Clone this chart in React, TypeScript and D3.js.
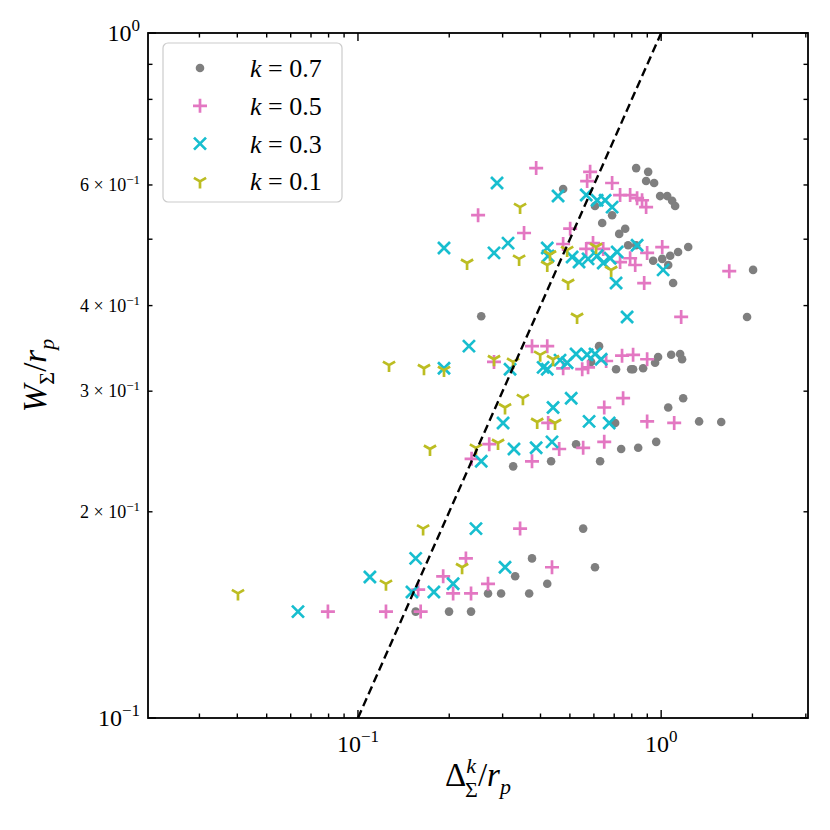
import React, { useRef, useEffect } from 'react';
import * as d3 from 'd3';

const WIDTH = 830;
const HEIGHT = 830;
const margin = { left: 148, right: 22, top: 33, bottom: 112 };

// k = 0.7  [Delta/r_p, W/r_p]
const seriesK07: [number, number][] = [
  [0.827, 0.635], [0.906, 0.627], [0.892, 0.608], [0.948, 0.604], [0.475, 0.592],
  [0.992, 0.578], [1.047, 0.578], [1.087, 0.569], [1.112, 0.559], [0.605, 0.559],
  [0.689, 0.542], [0.639, 0.528], [0.761, 0.518], [0.727, 0.509], [0.778, 0.49],
  [0.827, 0.49], [1.228, 0.487], [1.137, 0.479], [1.071, 0.473], [1.008, 0.468],
  [0.941, 0.465], [1.055, 0.4585], [1.095, 0.4315], [2.01, 0.451], [1.92, 0.385],
  [0.255, 0.386], [0.624, 0.349], [0.977, 0.3365], [1.079, 0.339], [1.155, 0.34],
  [1.172, 0.334], [0.955, 0.33], [0.872, 0.324], [0.808, 0.323], [0.796, 0.323],
  [0.71, 0.323], [0.5875, 0.331], [1.182, 0.293], [1.055, 0.284], [1.334, 0.271],
  [1.578, 0.2705], [0.705, 0.2696], [0.524, 0.251], [0.738, 0.247], [0.84, 0.248],
  [0.963, 0.253], [0.325, 0.233], [0.4335, 0.237], [0.629, 0.237], [0.553, 0.189],
  [0.375, 0.171], [0.605, 0.166], [0.33, 0.161], [0.421, 0.157], [0.2685, 0.152],
  [0.2965, 0.152], [0.367, 0.152], [0.1997, 0.143], [0.236, 0.143], [0.155, 0.143],
];

// k = 0.5
const seriesK05: [number, number][] = [
  [0.387, 0.635], [0.583, 0.627], [0.57, 0.608], [0.689, 0.604], [0.732, 0.58],
  [0.79, 0.58], [0.833, 0.574], [0.865, 0.57], [0.892, 0.557], [0.249, 0.542],
  [0.353, 0.5105], [0.501, 0.518], [0.475, 0.492], [0.596, 0.4935], [0.566, 0.484],
  [0.644, 0.484], [0.732, 0.463], [0.79, 0.469], [0.821, 0.4585], [0.899, 0.4775],
  [1.008, 0.487], [0.879, 0.4315], [1.677, 0.449], [1.164, 0.385], [0.375, 0.349],
  [0.421, 0.349], [0.281, 0.331], [0.475, 0.324], [0.549, 0.323], [0.574, 0.325],
  [0.6585, 0.332], [0.743, 0.338], [0.808, 0.339], [0.899, 0.334], [0.749, 0.293],
  [0.649, 0.284], [0.424, 0.2696], [0.899, 0.271], [1.104, 0.2696], [0.271, 0.251],
  [0.461, 0.247], [0.553, 0.248], [0.649, 0.253], [0.237, 0.239], [0.375, 0.237],
  [0.3425, 0.189], [0.227, 0.171], [0.4365, 0.166], [0.191, 0.161], [0.2685, 0.157],
  [0.158, 0.154], [0.206, 0.152], [0.236, 0.152], [0.0796, 0.143], [0.1237, 0.143],
  [0.161, 0.143],
];

// k = 0.3
const seriesK03: [number, number][] = [
  [0.2875, 0.604], [0.457, 0.578], [0.566, 0.58], [0.615, 0.57], [0.6535, 0.57],
  [0.689, 0.557], [0.1922, 0.4855], [0.3126, 0.4935], [0.281, 0.4775], [0.421, 0.4855],
  [0.4236, 0.4726], [0.5085, 0.471], [0.536, 0.463], [0.574, 0.468], [0.615, 0.473],
  [0.644, 0.4616], [0.679, 0.469], [0.716, 0.479], [0.833, 0.49], [1.015, 0.451],
  [0.71, 0.4315], [0.772, 0.385], [0.2323, 0.349], [0.1922, 0.324], [0.3174, 0.323],
  [0.408, 0.325], [0.421, 0.323], [0.464, 0.333], [0.4897, 0.33], [0.524, 0.34],
  [0.57, 0.339], [0.605, 0.34], [0.634, 0.334], [0.505, 0.293], [0.44, 0.284],
  [0.301, 0.2696], [0.5785, 0.271], [0.674, 0.2696], [0.327, 0.247], [0.387, 0.248],
  [0.4365, 0.253], [0.255, 0.237], [0.245, 0.189], [0.3055, 0.166], [0.155, 0.171],
  [0.1095, 0.1606], [0.206, 0.157], [0.1507, 0.1527], [0.178, 0.1527], [0.0634, 0.143],
];

// k = 0.1
const seriesK01: [number, number][] = [
  [0.3425, 0.557], [0.229, 0.4616], [0.34, 0.468], [0.4897, 0.482], [0.61, 0.487],
  [0.421, 0.4585], [0.43, 0.475], [0.4932, 0.4315], [0.684, 0.4508], [0.528, 0.385],
  [0.1266, 0.3275], [0.1651, 0.324], [0.1922, 0.322], [0.281, 0.334], [0.3248, 0.331],
  [0.399, 0.339], [0.44, 0.334], [0.35, 0.293], [0.3055, 0.284], [0.39, 0.2705],
  [0.4467, 0.2696], [0.1728, 0.247], [0.245, 0.248], [0.2897, 0.252], [0.164, 0.189],
  [0.2205, 0.166], [0.1237, 0.157], [0.0402, 0.152],
];

const kLabels = ['0.7', '0.5', '0.3', '0.1'];
const kColors = ['#7f7f7f', '#e377c2', '#17becf', '#bcbd22'];
const kMarkers = ['circle', 'plus', 'cross', 'tri'];
const allSeries = [seriesK07, seriesK05, seriesK03, seriesK01];

const xDomain: [number, number] = [0.0203, 3.05];
const yDomain: [number, number] = [0.1, 1];
const yLabelledMinor = [0.2, 0.3, 0.4, 0.6];
const refLine: [number, number][] = [[0.1, 0.1], [1, 1]];

const SERIF = '"Liberation Serif", "DejaVu Serif", serif';

const markerPath: Record<string, string> = {
  plus: 'M-7,0H7M0,-7V7',
  cross: 'M-6,-6L6,6M-6,6L6,-6',
  tri: 'M0,0V7M0,0L-6.1,-3.5M0,0L6.1,-3.5',
};

function drawMarker(g: d3.Selection<SVGGElement, unknown, null, undefined>, kind: string, color: string) {
  if (kind === 'circle') {
    g.append('circle').attr('r', 4.3).attr('fill', color);
  } else {
    g.append('path')
      .attr('d', markerPath[kind])
      .attr('fill', 'none')
      .attr('stroke', color)
      .attr('stroke-width', 2.7);
  }
}

const App: React.FC = () => {
  const svgRef = useRef<SVGSVGElement>(null);

  useEffect(() => {
    const svg = d3.select(svgRef.current);
    svg.selectAll('*').remove();

    const x0 = margin.left;
    const x1 = WIDTH - margin.right;
    const y0 = margin.top;
    const y1 = HEIGHT - margin.bottom;

    const x = d3.scaleLog().domain(xDomain).range([x0, x1]);
    const y = d3.scaleLog().domain(yDomain).range([y1, y0]);

    svg.append('rect').attr('width', WIDTH).attr('height', HEIGHT).attr('fill', 'white');

    svg.append('clipPath').attr('id', 'plot-clip')
      .append('rect')
      .attr('x', x0).attr('y', y0)
      .attr('width', x1 - x0).attr('height', y1 - y0);

    const plot = svg.append('g').attr('clip-path', 'url(#plot-clip)');

    // series
    allSeries.forEach((data, i) => {
      data.forEach(d => {
        const g = plot.append('g').attr('transform', `translate(${x(d[0])},${y(d[1])})`);
        drawMarker(g, kMarkers[i], kColors[i]);
      });
    });

    // y = x reference
    const line = d3.line<[number, number]>().x(d => x(d[0])).y(d => y(d[1]));
    plot.append('path')
      .attr('d', line(refLine))
      .attr('fill', 'none')
      .attr('stroke', 'black')
      .attr('stroke-width', 2.4)
      .attr('stroke-dasharray', '8.5,4.5');

    // ticks (inward, all four sides)
    const isMajor = (v: number) => Math.abs(Math.log10(v) - Math.round(Math.log10(v))) < 1e-6;
    const ticks = svg.append('g').attr('stroke', 'black').attr('stroke-width', 1.4);
    x.ticks().forEach(v => {
      const len = isMajor(v) ? 8 : 4.5;
      const px = x(v);
      ticks.append('line').attr('x1', px).attr('x2', px).attr('y1', y1).attr('y2', y1 - len);
      ticks.append('line').attr('x1', px).attr('x2', px).attr('y1', y0).attr('y2', y0 + len);
    });
    y.ticks().forEach(v => {
      const len = isMajor(v) ? 8 : 4.5;
      const py = y(v);
      ticks.append('line').attr('x1', x0).attr('x2', x0 + len).attr('y1', py).attr('y2', py);
      ticks.append('line').attr('x1', x1).attr('x2', x1 - len).attr('y1', py).attr('y2', py);
    });

    // frame
    svg.append('rect')
      .attr('x', x0).attr('y', y0)
      .attr('width', x1 - x0).attr('height', y1 - y0)
      .attr('fill', 'none').attr('stroke', 'black').attr('stroke-width', 1.8);

    // x tick labels
    x.ticks().filter(isMajor).forEach(v => {
      const t = svg.append('text')
        .attr('x', x(v)).attr('y', y1 + 34)
        .attr('text-anchor', 'middle')
        .attr('font-family', SERIF).attr('font-size', 24);
      t.append('tspan').text('10');
      const e = Math.round(Math.log10(v));
      t.append('tspan').attr('dy', -10).attr('font-size', 17).text(e < 0 ? `−${-e}` : `${e}`);
    });

    // y tick labels
    y.ticks().forEach(v => {
      const e = Math.floor(Math.log10(v) + 1e-9);
      const major = isMajor(v);
      if (!major && !yLabelledMinor.some(m => Math.abs(m - v) < 1e-9)) return;
      const t = svg.append('text')
        .attr('x', x0 - 8).attr('y', y(v) + (major ? 8 : 6))
        .attr('text-anchor', 'end')
        .attr('font-family', SERIF).attr('font-size', major ? 24 : 18);
      if (major) {
        t.append('tspan').text('10');
        t.append('tspan').attr('dy', -10).attr('font-size', 17).text(e < 0 ? `−${-e}` : `${e}`);
      } else {
        const m = Math.round(v / Math.pow(10, e));
        t.append('tspan').text(`${m} × 10`);
        t.append('tspan').attr('dy', -7).attr('font-size', 13).text(`−${-e}`);
      }
    });

    // axis titles
    const xl = svg.append('text')
      .attr('x', (x0 + x1) / 2).attr('y', y1 + 68)
      .attr('text-anchor', 'middle')
      .attr('font-family', SERIF).attr('font-size', 33);
    xl.append('tspan').text('Δ');
    xl.append('tspan').attr('dy', -13).attr('font-size', 22).attr('font-style', 'italic').text('k');
    xl.append('tspan').attr('dx', -11).attr('dy', 24).attr('font-size', 22).text('Σ');
    xl.append('tspan').attr('dy', -11).text('/');
    xl.append('tspan').attr('font-style', 'italic').text('r');
    xl.append('tspan').attr('dy', 8).attr('font-size', 22).attr('font-style', 'italic').text('p');

    const yl = svg.append('text')
      .attr('transform', `translate(46,${(y0 + y1) / 2}) rotate(-90)`)
      .attr('text-anchor', 'middle')
      .attr('font-family', SERIF).attr('font-size', 33);
    yl.append('tspan').attr('font-style', 'italic').text('W');
    yl.append('tspan').attr('dy', 8).attr('font-size', 22).text('Σ');
    yl.append('tspan').attr('dy', -8).text('/');
    yl.append('tspan').attr('font-style', 'italic').text('r');
    yl.append('tspan').attr('dy', 8).attr('font-size', 22).attr('font-style', 'italic').text('p');

    // legend
    const lg = svg.append('g').attr('transform', `translate(${x0 + 15},${y0 + 10})`);
    lg.append('rect')
      .attr('width', 179).attr('height', 159)
      .attr('rx', 5).attr('ry', 5)
      .attr('fill', 'white').attr('fill-opacity', 0.8)
      .attr('stroke', '#cccccc').attr('stroke-width', 1.2);
    kLabels.forEach((lab, i) => {
      const row = lg.append('g').attr('transform', `translate(0,${25 + i * 37.8})`);
      const mk = row.append('g').attr('transform', 'translate(37,0)');
      drawMarker(mk, kMarkers[i], kColors[i]);
      const t = row.append('text')
        .attr('x', 87).attr('y', 9)
        .attr('font-family', SERIF).attr('font-size', 26);
      t.append('tspan').attr('font-style', 'italic').text('k');
      t.append('tspan').text(` = ${lab}`);
    });
  }, []);

  return (
    <svg
      ref={svgRef}
      width={WIDTH}
      height={HEIGHT}
      style={{ position: 'absolute', left: 0, top: 0 }}
    />
  );
};

export default App;
